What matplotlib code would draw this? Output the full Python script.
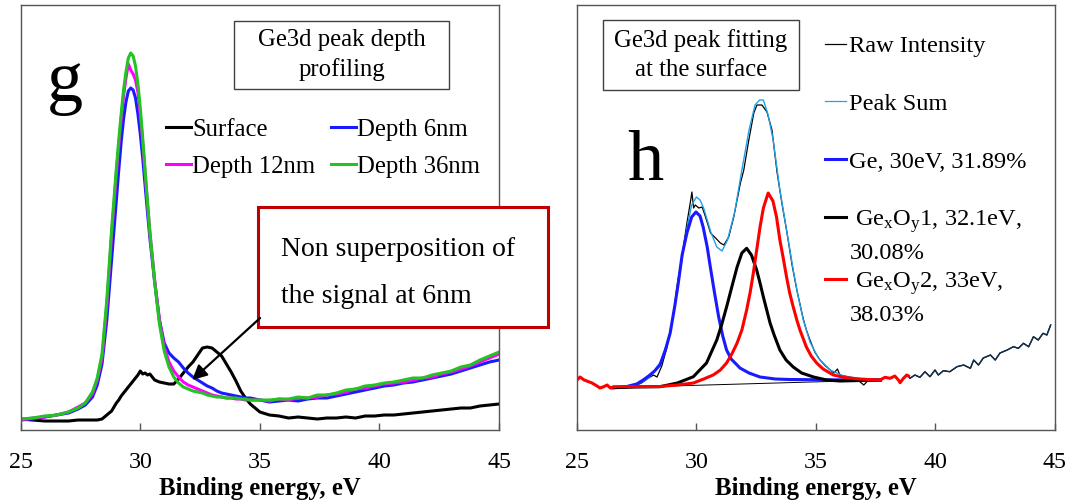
import numpy as np
import matplotlib
matplotlib.use("Agg")
import matplotlib.pyplot as plt
from matplotlib.lines import Line2D
from matplotlib.patches import Rectangle

plt.rcParams["font.family"] = ["Liberation Serif", "DejaVu Serif"]
plt.rcParams["mathtext.fontset"] = "custom"
plt.rcParams["mathtext.rm"] = "Liberation Serif"
plt.rcParams["mathtext.it"] = "Liberation Serif:italic"

# ---- panel g: Ge3d depth profiling (intensity, a.u.) ----
energy_g = [25.0, 25.5, 26.0, 26.5, 27.0, 27.4, 27.7, 28.0, 28.2, 28.4, 28.6, 28.8,
            29.0, 29.1, 29.2, 29.3, 29.4, 29.5, 29.6, 29.7, 29.8, 29.9, 30.0, 30.1, 30.2, 30.3, 30.4,
            30.6, 30.8, 31.0, 31.2, 31.4, 31.6, 31.8, 32.0, 32.2, 32.4, 32.6, 32.8, 33.0, 33.2,
            33.4, 33.6, 33.8, 34.0, 34.2, 34.4, 34.6, 34.8, 35.0,
            35.4, 35.8, 36.2, 36.6, 37.0, 37.4, 37.8, 38.2, 38.6, 39.0, 39.4, 39.8, 40.2, 40.6,
            41.0, 41.4, 41.8, 42.2, 42.6, 43.0, 43.4, 43.8, 44.2, 44.6, 45.0]

surface = [11, 10, 9, 9, 9, 10, 10, 10, 10, 11, 15, 19,
           27, 30, 34, 37, 40, 43, 46, 49, 52, 55, 59, 56, 57, 55, 56,
           50, 48, 47, 46, 46, 51, 57, 63, 68, 75, 82, 83, 82, 78, 74, 66, 58, 49, 39, 32, 26, 22, 18,
           15, 14, 12, 13, 12, 11, 12, 12, 13, 12, 14, 14, 15, 15, 16, 17, 18, 19, 20, 21, 22, 22, 24, 25, 26]
depth_6 = [10, 11, 13, 15, 17, 21, 25, 33, 45, 66, 110, 170,
           230, 260, 288, 311, 328, 339, 342, 340, 332, 316, 296, 272, 245, 218, 192,
           148, 110, 87, 77, 72, 68, 62, 57, 53, 50, 47, 44, 42, 39, 37, 36, 35, 34, 33, 32, 32, 31, 30,
           28, 29, 30, 29, 31, 32, 32, 34, 36, 38, 40, 42, 44, 45, 47, 48, 50, 52, 54, 56, 59, 62, 65, 68, 70]
depth_12 = [10, 12, 13, 15, 18, 23, 27, 36, 50, 72, 125, 195,
            257, 285, 311, 334, 352, 366, 360, 356, 350, 338, 316, 288, 257, 227, 198,
            150, 110, 83, 68, 59, 53, 48, 45, 43, 41, 39, 37, 35, 34, 33, 32, 32, 31, 31, 30, 30, 30, 30,
            29, 31, 30, 32, 32, 33, 35, 36, 38, 41, 42, 44, 46, 47, 48, 50, 52, 53, 56, 58, 61, 64, 68, 72, 76]
depth_36 = [11, 12, 14, 15, 18, 22, 27, 38, 52, 76, 130, 200,
            262, 290, 316, 340, 358, 372, 377, 374, 364, 346, 322, 292, 260, 228, 198,
            148, 106, 79, 63, 53, 47, 43, 41, 39, 38, 37, 35, 34, 33, 33, 32, 32, 32, 31, 31, 30, 30, 30,
            30, 31, 31, 33, 32, 35, 35, 37, 40, 41, 44, 45, 47, 48, 50, 52, 52, 55, 57, 59, 63, 65, 70, 74, 78]

# ---- panel h: Ge3d peak fitting at the surface ----
raw_e = [25.0, 25.13, 25.3, 25.49, 25.63, 25.84, 25.96, 26.12, 26.26, 26.4, 26.54, 26.8, 27.1, 27.4,
         27.7, 28.0, 28.2, 28.35, 28.55, 28.77, 29.05, 29.18, 29.39, 29.6, 29.74, 29.81, 29.88, 29.95,
         30.1, 30.24, 30.38, 30.59, 30.8, 31.0, 31.15, 31.35, 31.56, 31.84, 31.98, 32.19, 32.4, 32.53,
         32.74, 32.95, 33.16, 33.37, 33.58, 33.79, 34.0, 34.2, 34.46, 34.6, 34.75, 34.95, 35.17, 35.4,
         35.6, 35.75, 35.9, 36.0, 36.4, 36.7, 37.0, 37.2, 37.5, 37.68, 37.89, 38.1, 38.3, 38.45, 38.52,
         38.66, 38.8, 38.87, 38.93, 39.14, 39.35, 39.56, 39.77, 39.98, 40.12, 40.33, 40.6, 40.9, 41.18,
         41.46, 41.6, 41.8, 42.0, 42.3, 42.5, 42.7, 43.0, 43.26, 43.47, 43.68, 43.9, 44.1, 44.3, 44.5,
         44.66, 44.82]
raw_i = [50, 53, 50, 48.3, 47, 44, 42, 43.3, 45, 42, 43.3, 43, 42.5, 44,
         47, 52, 55, 53, 64, 83, 117, 143, 173, 207, 227, 238, 222, 225,
         222, 223, 213, 197, 192, 187, 185, 193, 213, 247, 260, 290, 317, 325,
         325, 318, 300, 258, 226, 197, 165, 140, 112, 100, 90, 78, 70, 64,
         60, 57, 61, 55, 53, 51, 45, 50, 50, 50, 52.7, 51.7, 54, 50, 47.3,
         51.7, 55, 54, 51.7, 55, 52.7, 58.3, 53.3, 60, 55, 59.3, 58.3, 63.3, 65,
         61.7, 70, 65, 72, 75, 70, 77, 80, 83.3, 81.7, 86.7, 83.3, 93.3, 90, 96.7,
         95, 105]

sum_e = [26.5, 27.0, 27.5, 28.0, 28.5, 28.9, 29.2, 29.6, 29.8, 30.0, 30.15, 30.3, 30.6, 30.85,
         31.07, 31.3, 31.6, 31.9, 32.2, 32.45, 32.64, 32.8, 33.0, 33.21, 33.49, 33.77, 34.05, 34.26,
         34.47, 34.75, 35.1, 35.59, 36.15, 36.8, 37.7]
sum_i = [42.3, 43, 45, 52, 68, 97, 140, 202, 225, 233, 230, 222, 198, 183,
         179, 190, 218, 260, 300, 325, 330, 330, 315, 290, 240, 200, 160, 133,
         110, 88, 72, 60, 54, 51.5, 50]

ge_e = [26.5, 27.0, 27.5, 27.77, 28.0, 28.25, 28.47, 28.7, 28.9, 29.1, 29.24, 29.4, 29.6, 29.8,
        29.98, 30.15, 30.28, 30.45, 30.58, 30.75, 30.93, 31.1, 31.26, 31.45, 31.7, 31.82, 32.2, 32.66,
        33.3, 33.9, 35.45, 37.7]
ge_i = [42.3, 43, 46, 50, 54, 59, 65, 80, 97, 125, 147, 175, 197, 213,
        218, 214, 203, 183, 163, 138, 113, 94, 80, 71, 65, 62, 57, 53,
        51, 50.5, 50.2, 50]

ox1_e = [26.5, 27.5, 28.47, 29.2, 29.87, 30.42, 30.85, 31.05, 31.26, 31.5, 31.7, 31.9, 32.1, 32.3,
         32.52, 32.66, 32.8, 32.94, 33.08, 33.25, 33.49, 33.75, 34.05, 34.4, 34.9, 35.45, 36.0, 37.7]
ox1_i = [42.3, 43, 43.3, 47, 53.3, 67, 90, 105, 123, 145, 163, 177, 181.7, 175,
         160, 147, 133, 120, 107, 95, 80, 70, 63, 57, 53, 50, 49, 50]

ox2_e = [25.0, 25.13, 25.3, 25.49, 25.63, 25.84, 25.96, 26.12, 26.26, 26.4, 26.54, 27.5, 28.47,
         29.2, 29.87, 30.3, 30.7, 31.0, 31.26, 31.5, 31.7, 31.9, 32.1, 32.25, 32.38, 32.52, 32.66,
         32.8, 33.0, 33.2, 33.35, 33.49, 33.63, 33.77, 33.9, 34.05, 34.2, 34.33, 34.6, 34.8, 35.03,
         35.3, 35.73, 36.2, 36.84, 37.2, 37.68, 37.89, 38.1, 38.3, 38.45, 38.52, 38.66, 38.8, 38.87]
ox2_i = [50, 53, 50, 48.3, 47, 44, 42, 43.3, 45, 42, 43.3, 43.5, 43.5,
         45, 47, 51, 55, 60, 67, 77, 87, 100, 120, 138, 157, 180, 203,
         222, 237, 229, 213, 190, 172, 153, 137, 123, 110, 100, 83, 74, 67,
         61, 55, 52.5, 51, 50.5, 50, 52.7, 51.7, 54, 50, 47.3, 51.7, 55, 54]

base_e = [26.5, 37.7]
base_i = [42.3, 50]

SPINE = "#555555"
BLUE = "#1a1aff"
MAGENTA = "#ff00ff"
GREEN = "#22c322"
RED = "#ff0000"
SKY = "#1fa2e8"

fig = plt.figure(figsize=(10.73, 5.01), dpi=100)
ax_g = fig.add_axes([0.0193, 0.1417, 0.4458, 0.8483])
ax_h = fig.add_axes([0.5377, 0.1417, 0.4455, 0.8483])

for ax in (ax_g, ax_h):
    ax.set_xlim(25, 45)
    ax.set_ylim(0, 425)
    ax.set_xticks([25, 30, 35, 40, 45])
    ax.set_yticks([])
    ax.tick_params(axis="x", direction="in", length=5, width=1, color=SPINE,
                   pad=16, labelsize=17.3)
    for s in ax.spines.values():
        s.set_color(SPINE)
        s.set_linewidth(1)
    ax.set_xlabel("Binding energy, eV", fontsize=17.8, fontweight="bold", labelpad=2.5)

# panel g curves
lw = 2.2
l_surf, = ax_g.plot(energy_g, surface, color="black", lw=lw, label="Surface")
l_6, = ax_g.plot(energy_g, depth_6, color=BLUE, lw=lw, label="Depth 6nm")
l_12, = ax_g.plot(energy_g, depth_12, color=MAGENTA, lw=lw, label="Depth 12nm")
l_36, = ax_g.plot(energy_g, depth_36, color=GREEN, lw=lw, label="Depth 36nm")

ax_g.legend(handles=[l_surf, l_12, l_6, l_36], ncol=2, frameon=False, loc="upper left",
            bbox_to_anchor=(0.304, 0.733), borderpad=0, borderaxespad=0,
            handlelength=1.0, handletextpad=0.05, columnspacing=0.65,
            labelspacing=0.6, fontsize=17.8)

ax_g.text(0.055, 0.773, "g", transform=ax_g.transAxes, fontsize=52, va="baseline", ha="left")

ax_g.add_patch(Rectangle((0.446, 0.8024), 0.4495, 0.16, transform=ax_g.transAxes,
                         facecolor="white", edgecolor="#404040", lw=1))
ax_g.text(0.6705, 0.882, "Ge3d peak depth\nprofiling", transform=ax_g.transAxes,
          ha="center", va="center", fontsize=17.8, linespacing=1.38)

# callout box reaching past the right spine
ax_g.add_patch(Rectangle((0.4961, 0.2424), 0.6064, 0.2823, transform=ax_g.transAxes,
                         facecolor="white", edgecolor="#c00000", lw=2.2, clip_on=False, zorder=5))
ax_g.text(0.544, 0.4094, "Non superposition of", transform=ax_g.transAxes,
          ha="left", va="baseline", fontsize=20, zorder=6)
ax_g.text(0.544, 0.2988, "the signal at 6nm", transform=ax_g.transAxes,
          ha="left", va="baseline", fontsize=20, zorder=6)
ax_g.annotate("", xy=(32.17, 50), xytext=(35.01, 112),
              arrowprops=dict(arrowstyle="-|>", color="black", lw=1.6,
                              mutation_scale=22, shrinkA=0, shrinkB=0), zorder=7)

# panel h curves
raw_e_arr = np.array(raw_e)
raw_i_arr = np.array(raw_i)
tail = raw_e_arr >= 38.85
ax_h.plot(raw_e, raw_i, color="black", lw=0.9, zorder=2)
ax_h.plot(raw_e_arr[tail], raw_i_arr[tail], color="#12304e", lw=1.0, zorder=2.1)
ax_h.plot(sum_e, sum_i, color=SKY, lw=1.0, zorder=2.5)
ax_h.plot(base_e, base_i, color="black", lw=0.7, zorder=2.2)
ax_h.plot(ge_e, ge_i, color=BLUE, lw=lw, zorder=3)
ax_h.plot(ox1_e, ox1_i, color="black", lw=lw, zorder=3.1)
ax_h.plot(ox2_e, ox2_i, color=RED, lw=lw, zorder=3.2)

blank = Line2D([], [], color="none")
h_handles = [
    Line2D([], [], color="black", lw=0.9), blank,
    Line2D([], [], color=SKY, lw=0.9), blank,
    Line2D([], [], color=BLUE, lw=lw), blank,
    Line2D([], [], color="black", lw=lw), blank,
    Line2D([], [], color=RED, lw=lw), blank,
]
h_labels = ["Raw Intensity", " ",
            "Peak Sum", " ",
            "Ge, 30eV, 31.89%", " ",
            r" Ge$_\mathrm{x}$O$_\mathrm{y}$1, 32.1eV,", "30.08%",
            r" Ge$_\mathrm{x}$O$_\mathrm{y}$2, 33eV,", "38.03%"]
ax_h.legend(h_handles, h_labels, frameon=False, loc="upper left",
            bbox_to_anchor=(0.519, 0.929), borderpad=0, borderaxespad=0,
            handlelength=0.85, handletextpad=0.15, labelspacing=0.275, fontsize=17.6)

ax_h.text(0.1046, 0.588, "h", transform=ax_h.transAxes, fontsize=52, va="baseline", ha="left")

ax_h.add_patch(Rectangle((0.0544, 0.8), 0.41, 0.1647, transform=ax_h.transAxes,
                         facecolor="white", edgecolor="#404040", lw=1))
ax_h.text(0.2594, 0.882, "Ge3d peak fitting\nat the surface", transform=ax_h.transAxes,
          ha="center", va="center", fontsize=17.8, linespacing=1.38)

fig.savefig("out.png", dpi=100)
